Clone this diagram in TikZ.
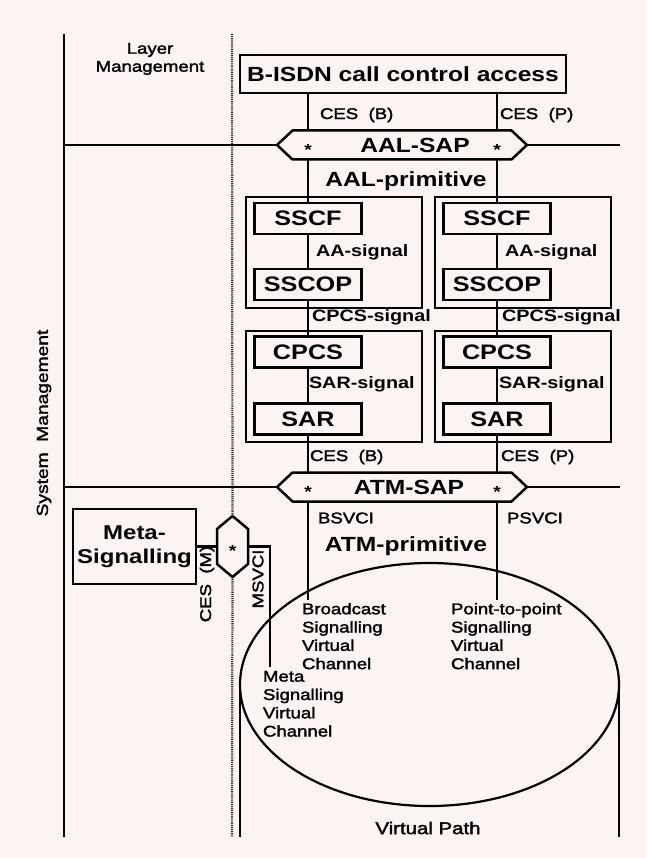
\documentclass[tikz,border=0pt]{standalone}
\usepackage{fontspec}
\setmainfont{Liberation Sans}[FakeStretch=1.2]
\newfontfamily\medf{Liberation Sans}[FakeStretch=1.2,FakeBold=2]
\usetikzlibrary{shapes.symbols,shapes.geometric}
\definecolor{bg}{RGB}{252,243,243}
\begin{document}
\begin{tikzpicture}[x=1pt,y=-1pt,
  every node/.style={inner sep=0pt,outer sep=0pt},
  wire/.style={line width=2.2pt},
  hatch/.style={line width=2.2pt,black!85,dash pattern=on 1.1pt off 1pt},
  grp/.style={draw,line width=1.8pt,minimum width=176pt,minimum height=111pt},
  box/.style={draw,line width=2.5pt,fill=bg,minimum width=107pt,minimum height=31pt,
    font=\fontsize{21}{24}\selectfont\bfseries},
  sap/.style={signal,signal to=east and west,signal pointer angle=86,draw,line width=2.5pt,
    fill=bg,minimum width=250pt,minimum height=29pt},
  title/.style={font=\fontsize{20.5}{24}\selectfont\bfseries},
  blbl/.style={font=\fontsize{16.5}{19}\selectfont\bfseries},
  lbl/.style={font=\fontsize{15.5}{18}\medf},
  vclbl/.style={font=\fontsize{15.5}{18.3}\medf,align=left,anchor=north west},
  star/.style={font=\fontsize{16}{16}\selectfont\bfseries}
]
\fill[bg] (0,0) rectangle (647,858);
\useasboundingbox (0,0) rectangle (647,858);

% frame lines
\coordinate (lmT) at (64,34);
\coordinate (lmB) at (64,837);
\coordinate (dT) at (232,34);
\coordinate (dB) at (232,837);
\coordinate (aalR) at (620,145);
\coordinate (atmR) at (620,487);
\coordinate (bEnd) at (308,600);
\coordinate (pEnd) at (497,600);
\coordinate (msEnd) at (270,667);
\coordinate (vpW) at (240,684.5);
\coordinate (vpE) at (619,684.5);
\coordinate (vpN) at (429.5,563);
\coordinate (vpS) at (429.5,806);

% group boxes
\node[grp] (g1) at (334,252.5) {};
\node[grp] (g2) at (523,252.5) {};
\node[grp] (g3) at (334,386.5) {};
\node[grp] (g4) at (523,386.5) {};

% boxes
\node[draw,line width=2.5pt,fill=bg,minimum width=326pt,minimum height=38pt,title] (bisdn) at (403,74) {B-ISDN call control access};
\node[sap] (aalsap) at (402,145) {};
\node[sap] (atmsap) at (402,487) {};
\node[box] (sscfL) at (308,218.5) {SSCF};
\node[box] (sscopL) at (308,284.5) {SSCOP};
\node[box] (cpcsL) at (308,352) {CPCS};
\node[box] (sarL) at (308,419) {SAR};
\node[box] (sscfR) at (497,218.5) {SSCF};
\node[box] (sscopR) at (497,284.5) {SSCOP};
\node[box] (cpcsR) at (497,352) {CPCS};
\node[box] (sarR) at (497,419) {SAR};
\node[draw,line width=2.5pt,fill=bg,minimum width=123pt,minimum height=75pt,align=center,
  font=\fontsize{20}{24}\selectfont\bfseries] (meta) at (134.5,546.5) {Meta-\\Signalling};
\node[signal,signal to=north and south,signal pointer angle=100,draw,line width=2.5pt,fill=bg,
  minimum width=31pt,minimum height=35pt] (hexM) at (232.5,546.5) {};

% virtual path (ellipse)
\draw[wire] (vpW) .. controls (240,617.4) and (324.8,563) .. (vpN)
  .. controls (534.2,563) and (619,617.4) .. (vpE)
  .. controls (619,751.6) and (534.2,806) .. (vpS)
  .. controls (324.8,806) and (240,751.6) .. (vpW) -- cycle;

% frame
\draw[wire] (lmT) -- (lmB);
\draw[hatch] (dT) -- (hexM.north);
\draw[hatch] (hexM.south) -- (dB);
\draw[wire] (lmT |- aalsap.west) -- (aalsap.west);
\draw[wire] (aalsap.east) -- (aalR);
\draw[wire] (lmT |- atmsap.west) -- (atmsap.west);
\draw[wire] (atmsap.east) -- (atmR);

% left stack
\draw[wire] (bisdn.south -| sscfL) -- (sscfL |- aalsap.north);
\draw[wire] (sscfL |- aalsap.south) -- (sscfL.north);
\draw[wire] (sscfL.south) -- (sscopL.north);
\draw[wire] (sscopL.south) -- (cpcsL.north);
\draw[wire] (cpcsL.south) -- (sarL.north);
\draw[wire] (sarL.south) -- (sarL |- atmsap.north);
\draw[wire] (sarL |- atmsap.south) -- (bEnd);
% right stack
\draw[wire] (bisdn.south -| sscfR) -- (sscfR |- aalsap.north);
\draw[wire] (sscfR |- aalsap.south) -- (sscfR.north);
\draw[wire] (sscfR.south) -- (sscopR.north);
\draw[wire] (sscopR.south) -- (cpcsR.north);
\draw[wire] (cpcsR.south) -- (sarR.north);
\draw[wire] (sarR.south) -- (sarR |- atmsap.north);
\draw[wire] (sarR |- atmsap.south) -- (pEnd);
% meta
\draw[wire] (meta.east) -- (hexM.west);
\draw[wire] (hexM.east) -| (msEnd);
% cylinder
\draw[wire] (vpW) -- (vpW |- dB);
\draw[wire] (vpE) -- (vpE |- dB);

% labels
\node[lbl,align=center] (lm) at (150,59) {Layer\\Management};
\node[font=\fontsize{16}{18}\medf,rotate=90] (sm) at (44,423) {System\ \ Management};
\node[lbl,anchor=west] (ces1) at (320,115) {CES\ \ (B)};
\node[lbl,anchor=west] (cep1) at (500,115) {CES\ \ (P)};
\node[title] (aaltxt) at (415,145) {AAL-SAP};
\node[star] (s1) at (308,150) {*};
\node[star] (s2) at (497,150) {*};
\node[title] (aalprim) at (406,181) {AAL-primitive};
\node[blbl,anchor=west] (aa1) at (316,252) {AA-signal};
\node[blbl,anchor=west] (aa2) at (505,252) {AA-signal};
\node[blbl,anchor=west] (cs1) at (312,317) {CPCS-signal};
\node[blbl,anchor=west] (cs2) at (502,317) {CPCS-signal};
\node[blbl,anchor=west] (sr1) at (309,384) {SAR-signal};
\node[blbl,anchor=west] (sr2) at (499,384) {SAR-signal};
\node[lbl,anchor=west] (ces2) at (310,457) {CES\ \ (B)};
\node[lbl,anchor=west] (cep2) at (501,457) {CES\ \ (P)};
\node[title] (atmtxt) at (409,487) {ATM-SAP};
\node[star] (s3) at (308,492) {*};
\node[star] (s4) at (497,492) {*};
\node[star] (s5) at (232.5,551) {*};
\node[lbl,anchor=west] (bsv) at (318,518) {BSVCI};
\node[lbl,anchor=west] (psv) at (507,518) {PSVCI};
\node[title] (atmprim) at (406,546) {ATM-primitive};
\node[lbl,rotate=90] (cesm) at (207,584) {CES\ \ (M)};
\node[lbl,rotate=90] (msv) at (258,579) {MSVCI};
\node[vclbl] (bvc) at (302,603) {Broadcast\\Signalling\\Virtual\\Channel};
\node[vclbl] (pvc) at (451,603) {Point-to-point\\Signalling\\Virtual\\Channel};
\node[vclbl] (mvc) at (263,671) {Meta\\Signalling\\Virtual\\Channel};
\node[font=\fontsize{17}{20}\medf] (vpt) at (428,828) {Virtual Path};
\end{tikzpicture}
\end{document}
